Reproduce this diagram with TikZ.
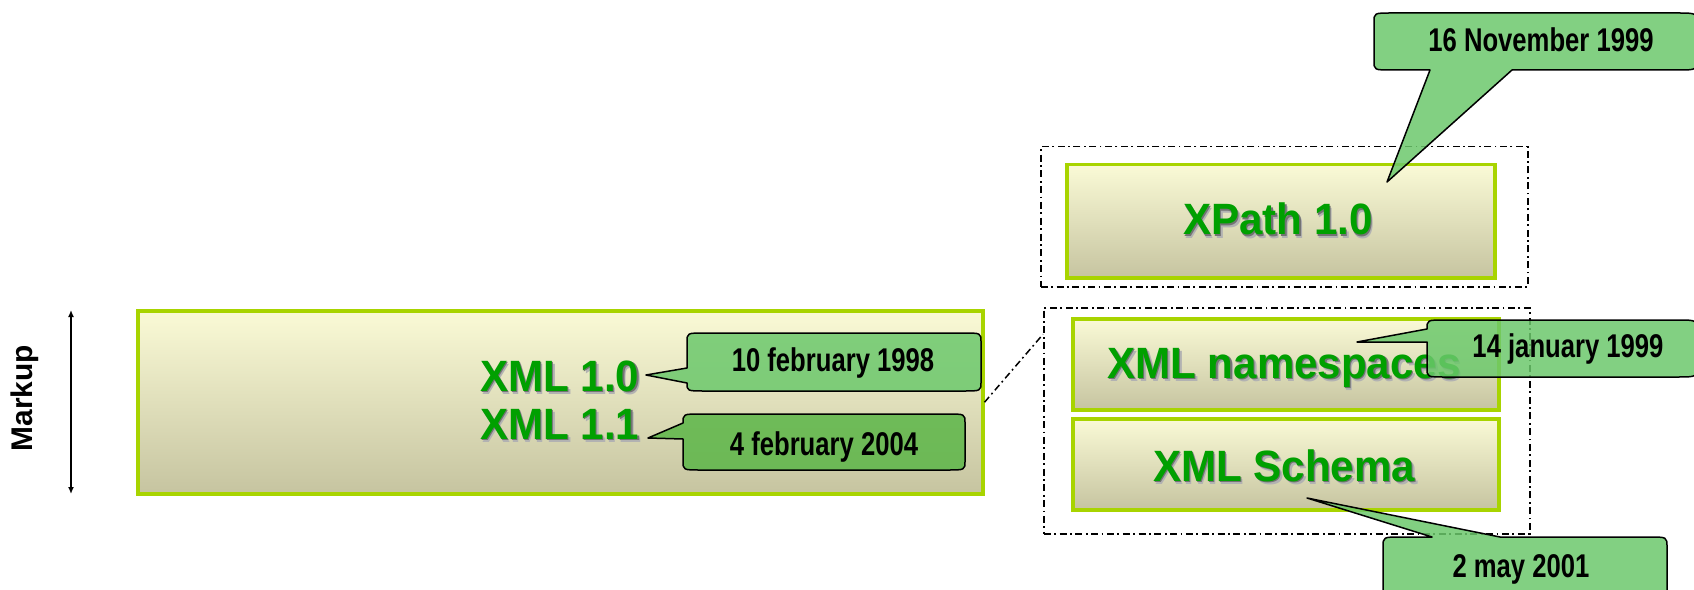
\documentclass[tikz,border=0pt]{standalone}
\usepackage{fontspec}
\usepackage{graphicx}
\setmainfont{Liberation Sans}
\usetikzlibrary{arrows.meta,calc}
\definecolor{xgreen}{RGB}{0,160,0}
\definecolor{limeb}{RGB}{168,212,0}
\definecolor{boxtop}{RGB}{250,250,214}
\definecolor{boxbot}{RGB}{198,196,160}
\definecolor{callg}{RGB}{108,200,108}
\definecolor{callgb}{RGB}{92,182,72}
\newcommand\shtxt[1]{\scalebox{0.96}[1]{\leavevmode\rlap{\kern2.8bp\raisebox{-3.2bp}{\textcolor{black!30}{#1}}}\rlap{\kern1.3bp\raisebox{-1.6bp}{\textcolor{black!55}{#1}}}\textcolor{xgreen}{#1}}}
\newcommand\dtxt[1]{\scalebox{0.78}[1]{#1}}
\begin{document}
\begin{tikzpicture}[x=1bp,y=-1bp,
  xbox/.style={draw=limeb, line width=3.5bp, top color=boxtop, bottom color=boxbot, inner sep=0, anchor=north west},
  grp/.style={draw=black, line width=1.5bp, dash pattern=on 7bp off 3.5bp on 1.8bp off 3.5bp, inner sep=0, anchor=north west},
  grpline/.style={draw=black, line width=1.5bp, dash pattern=on 7bp off 3.5bp on 1.8bp off 3.5bp},
  big/.style={font=\fontsize{44}{50}\selectfont\bfseries, inner sep=0, anchor=base},
  datetxt/.style={font=\fontsize{33}{38}\selectfont\bfseries, inner sep=0, anchor=base},
  callout/.style={draw=black, line width=1.5bp, fill=callg, fill opacity=0.85, line join=round}]
\useasboundingbox (0,0) rectangle (1694,590);

% boxes
\node[xbox, minimum width=845bp, minimum height=183bp] (xmlbox) at (136,309) {};
\node[grp, minimum width=487bp, minimum height=140bp] (grp1) at (1040,146) {};
\node[xbox, minimum width=428bp, minimum height=113bp] (xpathbox) at (1065,163) {};
\node[grp, minimum width=486bp, minimum height=226bp] (grp2) at (1043,307) {};
\node[xbox, minimum width=426bp, minimum height=91bp] (nsbox) at (1071,317) {};
\node[xbox, minimum width=426bp, minimum height=91bp] (schemabox) at (1071,417) {};

% connector
\draw[grpline] (xmlbox.east) -- ($(grp2.north west)!0.12!(grp2.south west)$);

% labels
\node[big, anchor=base west] (x10) at (480,391) {\shtxt{XML 1.0}};
\node[big, anchor=base west] (x11) at (480,439) {\shtxt{XML 1.1}};
\node[big] (xpath) at (1278,235) {\shtxt{XPath 1.0}};
\node[big] (ns) at (1284,378) {\shtxt{XML namespaces}};
\node[big] (schema) at (1284,481) {\shtxt{XML Schema}};

% markup axis
\node[font=\fontsize{30}{34}\selectfont\bfseries, rotate=90, inner sep=0] (markup) at (25,398) {Markup};
\coordinate (mtop) at (71,310);
\coordinate (mbot) at (71,494);
\draw[line width=2.2bp, {Latex[length=7bp,width=6bp]}-{Latex[length=7bp,width=6bp]}] (mtop) -- (mbot);

% callouts
\draw[callout] (646,375) -- (687,368) -- (687,342) .. controls (687,333) .. (705,333) -- (963,333) .. controls (981,333) .. (981,342) -- (981,382) .. controls (981,391) .. (963,391) -- (705,391) .. controls (687,391) .. (687,383) -- cycle;
\draw[callout, fill=callgb] (648,438) -- (683,423) .. controls (683,414) .. (701,414) -- (947,414) .. controls (965,414) .. (965,423) -- (965,461) .. controls (965,470) .. (947,470) -- (701,470) .. controls (683,470) .. (683,461) -- (683,439) -- cycle;
\draw[callout] (1387,182) -- (1512,70) -- (1677,70) .. controls (1697,70) .. (1697,58) -- (1697,25) .. controls (1697,13) .. (1677,13) -- (1392,13) .. controls (1374,13) .. (1374,22) -- (1374,61) .. controls (1374,70) .. (1392,70) -- (1430,70) -- cycle;
\draw[callout] (1357,342) -- (1427,329) .. controls (1427,320) .. (1445,320) -- (1677,320) .. controls (1697,320) .. (1697,332) -- (1697,365) .. controls (1697,377) .. (1677,377) -- (1445,377) .. controls (1427,377) .. (1427,368) -- (1427,342) -- cycle;
\draw[callout] (1307,498) -- (1432,537) -- (1401,537) .. controls (1383,537) .. (1383,547) -- (1383,610) -- (1667,610) -- (1667,547) .. controls (1667,537) .. (1649,537) -- (1500,537) -- cycle;

% callout texts
\node[datetxt] (d10) at (833,371) {\dtxt{10 february 1998}};
\node[datetxt] (d04) at (824,455) {\dtxt{4 february 2004}};
\node[datetxt] (d16) at (1541,52) {\dtxt{16 November 1999}};
\node[datetxt] (d14) at (1568,357) {\dtxt{14 january 1999}};
\node[datetxt] (d02) at (1521,577) {\dtxt{2 may 2001}};
\end{tikzpicture}
\end{document}
